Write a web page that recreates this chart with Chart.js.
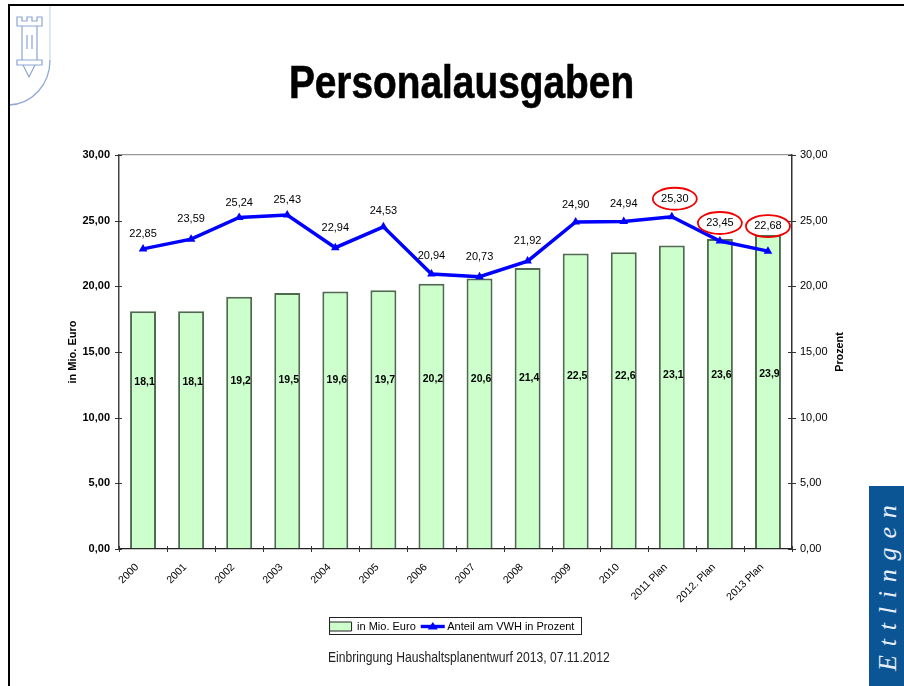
<!DOCTYPE html>
<html><head><meta charset="utf-8">
<style>
html,body{margin:0;padding:0;background:#fff;width:904px;height:686px;overflow:hidden}
#wrap{position:relative;width:904px;height:686px}
canvas{position:absolute;left:0;top:0}
.t{position:absolute;white-space:nowrap}
#title{left:200px;width:523px;text-align:center;top:56px;font:bold 46px/52px "Liberation Sans",sans-serif;color:#000;transform:scaleX(.844);-webkit-text-stroke:.6px #000}
#foot{left:328px;top:649px;font:14.5px/17px "Liberation Sans",sans-serif;color:#222;transform-origin:0 0;transform:scaleX(.837)}
#box{position:absolute;left:869px;top:486px;width:35px;height:200px;background:#0b5595}
#ett{left:888px;top:671px;transform-origin:0 0;transform:rotate(-90deg) translateY(-50%);font:italic 26px/30px "Liberation Serif",serif;letter-spacing:8.8px;color:#e8eef5}
#fl{position:absolute;left:8px;top:4px;width:2px;height:682px;background:#000}
#ft{position:absolute;left:8px;top:4px;width:896px;height:2px;background:#000}
svg{position:absolute;left:0;top:0}
</style></head><body><div id="wrap">
<canvas id="c" width="904" height="686"></canvas>
<svg width="60" height="110" fill="none">
<path d="M50 6V60" stroke="#ccd9ec" stroke-width="1.2"/>
<path d="M50 60C50 85 32 104 9 105" stroke="#8fa9d4" stroke-width="1.3"/>
<g stroke="#8ba6d3" stroke-width="1.2">
<path d="M17 17h5v4h5v-4h5v4h5v-4h5v9h-25z"/>
<path d="M22 26v34M37 26v34M27 35v14M32 35v14"/>
<path d="M17 60h25v5h-25z"/>
<path d="M23 65l6 12 6-12"/>
</g></svg>
<div id="fl"></div><div id="ft"></div>
<div class="t" id="title">Personalausgaben</div>
<div class="t" id="foot">Einbringung Haushaltsplanentwurf 2013, 07.11.2012</div>
<div id="box"></div><div class="t" id="ett">Ettlingen</div>
</div>
<script src="https://cdn.jsdelivr.net/npm/chart.js@4/dist/chart.umd.min.js"></script>
<script>
const categories = ["2000","2001","2002","2003","2004","2005","2006","2007","2008","2009","2010","2011 Plan","2012. Plan","2013 Plan"];
const personalMioEuro = [18.1,18.1,19.2,19.5,19.6,19.7,20.2,20.6,21.4,22.5,22.6,23.1,23.6,23.9];
const anteilVWH = [22.85,23.59,25.24,25.43,22.94,24.53,20.94,20.73,21.92,24.90,24.94,25.30,23.45,22.68];
const circledCategories = ["2011 Plan","2012. Plan","2013 Plan"];
const comma2 = v => Number(v).toFixed(2).replace('.',',');
const comma1 = v => Number(v).toFixed(1).replace('.',',');
const LIFT = [15,20,15,15,20,16,18,20,20,17,17,18,18,25];
const SHIFT = [0,0,0,0,0,0,0,0,0,0,0,3,0,0];
const FONT = '"Liberation Sans",Arial,sans-serif';

const overlay = {
  id:'overlay',
  afterDatasetsDraw(chart){
    const {ctx,scales:{x,y,y2}} = chart;
    ctx.save();
    ctx.strokeStyle='#333'; ctx.lineWidth=1;
    const area=chart.chartArea;
    y.ticks.forEach(t=>{const p=Math.round(y.getPixelForValue(t.value))+.5;
      ctx.beginPath();ctx.moveTo(area.left-4,p);ctx.lineTo(area.left+3,p);ctx.stroke();
      ctx.beginPath();ctx.moveTo(area.right-4,p);ctx.lineTo(area.right+4,p);ctx.stroke();});
    for(let i=0;i<=categories.length;i++){
      const p=Math.round(area.left+i*area.width/categories.length)+.5;
      ctx.beginPath();ctx.moveTo(p,area.bottom-3);ctx.lineTo(p,area.bottom+3);ctx.stroke();
    }
    ctx.fillStyle='#000';ctx.textAlign='center';ctx.textBaseline='middle';
    ctx.font='bold 10.5px '+FONT;
    personalMioEuro.forEach((v,i)=>{
      ctx.fillText(comma1(v),x.getPixelForValue(i)+1.5,y.getPixelForValue(12.7+(v-18)*.1));
    });
    ctx.font='11px '+FONT;
    anteilVWH.forEach((v,i)=>{
      const px=x.getPixelForValue(i)+SHIFT[i],py=y2.getPixelForValue(v)-LIFT[i];
      ctx.fillStyle='#000';ctx.fillText(comma2(v),px,py);
      if(circledCategories.includes(categories[i])){
        ctx.strokeStyle='#f00000';ctx.lineWidth=1.8;
        ctx.beginPath();ctx.ellipse(px,py,22,11,0,0,Math.PI*2);ctx.stroke();
      }
    });
    ctx.save();ctx.translate(840,352);ctx.rotate(-Math.PI/2);
    ctx.font='bold 10.8px '+FONT;ctx.fillStyle='#000';ctx.fillText('Prozent',0,0);ctx.restore();
    ctx.restore();
  },
  afterDraw(chart){
    const {ctx,legend}=chart;
    if(!legend||!legend.legendHitBoxes)return;
    ctx.save();
    ctx.strokeStyle='#222';ctx.lineWidth=1;
    ctx.strokeRect(329.5,617.5,252,17);
    const h=legend.legendHitBoxes[1];
    const mx=h.left+13, my=h.top+h.height/2;
    ctx.strokeStyle='#0000ff';ctx.lineWidth=3.4;
    ctx.beginPath();ctx.moveTo(mx-12,my);ctx.lineTo(mx+12,my);ctx.stroke();
    ctx.fillStyle='#0000ff';ctx.beginPath();ctx.moveTo(mx,my-4.5);ctx.lineTo(mx+5,my+3);ctx.lineTo(mx-5,my+3);ctx.fill();
    ctx.restore();
  }
};

new Chart(document.getElementById('c'),{
  type:'bar',
  data:{labels:categories,datasets:[
    {type:'line',label:'Anteil am VWH in Prozent',data:anteilVWH,yAxisID:'y2',order:1,
     borderColor:'#0000ff',backgroundColor:'#0000ff',borderWidth:3.5,tension:0,
     pointStyle:'triangle',pointRadius:5,pointBorderWidth:0,pointBackgroundColor:'#0000ff'},
    {type:'bar',label:'in Mio. Euro',data:personalMioEuro,yAxisID:'y',order:2,
     backgroundColor:'#ccffcc',borderColor:'#4f6b4f',borderWidth:2,barPercentage:.54,categoryPercentage:1}
  ]},
  options:{
    responsive:false,animation:false,events:[],
    layout:{padding:{top:155,bottom:44,left:0,right:0}},
    plugins:{
      tooltip:{enabled:false},title:{display:false},
      legend:{display:true,position:'bottom',
        labels:{font:{family:FONT,size:11},color:'#000',boxWidth:22,boxHeight:9,padding:4,
          generateLabels(chart){
            return [{text:'in Mio. Euro',fillStyle:'#ccffcc',strokeStyle:'#222',lineWidth:1,datasetIndex:1,fontColor:'#000'},
                    {text:'Anteil am VWH in Prozent',fillStyle:'transparent',strokeStyle:'transparent',lineWidth:0,datasetIndex:0,fontColor:'#000'}];
          }}}
    },
    scales:{
      x:{type:'category',offset:true,
        grid:{display:false,drawTicks:false},
        border:{display:true,color:'#222',width:1.2},
        ticks:{autoSkip:false,minRotation:45,maxRotation:45,padding:12,labelOffset:-6,color:'#000',font:{family:FONT,size:10.5}},
        afterFit(s){s.height=68;}},
      y:{position:'left',min:0,max:30,
        grid:{drawTicks:false,color:c=>c.tick&&c.tick.value===30?'#999':'transparent',lineWidth:1.3},
        border:{display:true,color:'#444',width:1.5},
        title:{display:true,text:'in Mio. Euro',color:'#000',font:{family:FONT,size:11,weight:'bold'},padding:{top:66,bottom:0}},
        ticks:{stepSize:5,padding:9,color:'#000',font:{family:FONT,size:11,weight:'bold'},callback:comma2},
        afterFit(s){s.width=119;}},
      y2:{position:'right',min:0,max:30,
        grid:{display:false,drawTicks:false,drawOnChartArea:false},
        border:{display:true,color:'#333',width:1.5},
        ticks:{stepSize:5,padding:8,color:'#000',font:{family:FONT,size:11},callback:comma2},
        afterFit(s){s.width=112;}}
    }
  },
  plugins:[overlay]
});
</script></body></html>
